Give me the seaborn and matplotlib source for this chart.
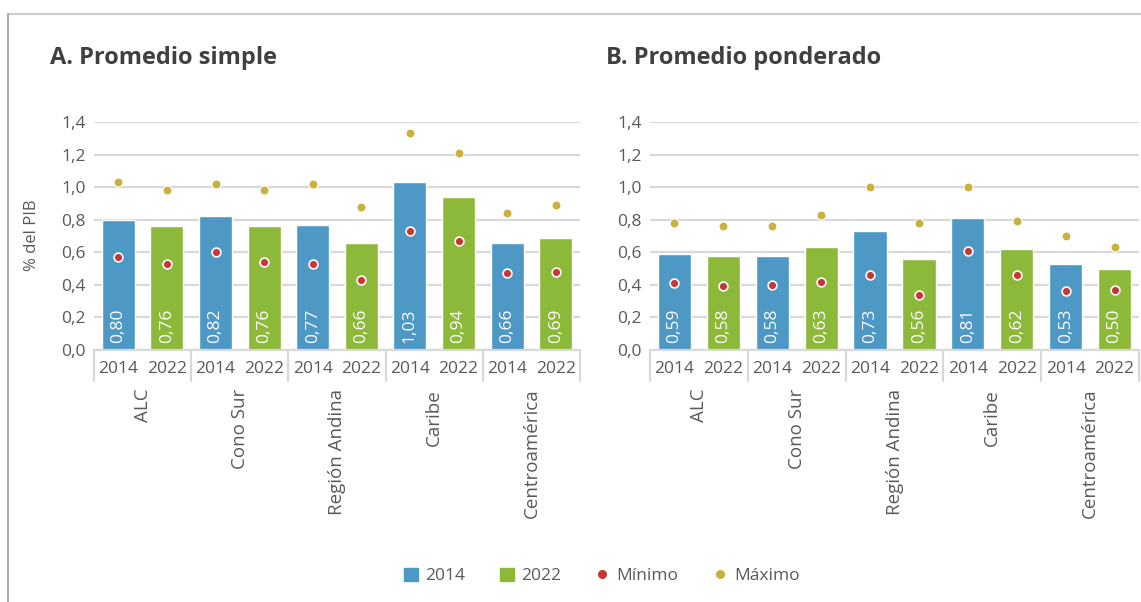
import numpy as np
import pandas as pd
import matplotlib
matplotlib.use("Agg")
import matplotlib.pyplot as plt
import seaborn as sns
from matplotlib.lines import Line2D
from matplotlib.patches import Patch
from matplotlib.ticker import FuncFormatter

regions = ["ALC", "Cono Sur", "Región Andina", "Caribe", "Centroamérica"]
years = ["2014", "2022"]

# Panel A: Promedio simple
simple_vals = [0.80, 0.76, 0.82, 0.76, 0.77, 0.66, 1.03, 0.94, 0.66, 0.69]
simple_min = [0.57, 0.53, 0.60, 0.54, 0.53, 0.43, 0.73, 0.67, 0.47, 0.48]
simple_max = [1.03, 0.98, 1.02, 0.98, 1.02, 0.88, 1.33, 1.21, 0.84, 0.89]

# Panel B: Promedio ponderado
weighted_vals = [0.59, 0.58, 0.58, 0.63, 0.73, 0.56, 0.81, 0.62, 0.53, 0.50]
weighted_min = [0.41, 0.39, 0.40, 0.42, 0.46, 0.34, 0.61, 0.46, 0.36, 0.37]
weighted_max = [0.78, 0.76, 0.76, 0.83, 1.00, 0.78, 1.00, 0.79, 0.70, 0.63]

titles = ["A. Promedio simple", "B. Promedio ponderado"]

C2014 = "#4e98c6"
C2022 = "#8db93a"
CMIN = "#c83636"
CMAX = "#c9b13f"
TXT = "#595959"
GRID = "#d9d9d9"

sns.set_theme(style="white")
plt.rcParams["font.family"] = ["Open Sans", "DejaVu Sans"]

fig = plt.figure(figsize=(11.41, 6.02), dpi=100)

W, H = 1141, 602
axes_px = [(94, 580), (650, 1139)]
y0_px, ytop_px = 350, 122

comma = FuncFormatter(lambda v, p: f"{v:.1f}".replace(".", ","))

datasets = [(simple_vals, simple_min, simple_max), (weighted_vals, weighted_min, weighted_max)]

for (xl, xr), title, (vals, mins, maxs) in zip(axes_px, titles, datasets):
    ax = fig.add_axes([xl / W, 1 - y0_px / H, (xr - xl) / W, (y0_px - ytop_px) / H])
    rows = []
    for i, r in enumerate(regions):
        for j, yv in enumerate(years):
            k = i * 2 + j
            rows.append(dict(pos=k, region=r, year=yv, value=vals[k], vmin=mins[k], vmax=maxs[k]))
    df = pd.DataFrame(rows)
    sns.barplot(data=df, x="pos", y="value", hue="year", palette={"2014": C2014, "2022": C2022},
                dodge=False, width=0.68, ax=ax, legend=False, saturation=1, zorder=2)
    sns.scatterplot(data=df, x="pos", y="vmax", color=CMAX, s=42, edgecolor="white", linewidth=0.8,
                    ax=ax, legend=False, zorder=4)
    sns.scatterplot(data=df, x="pos", y="vmin", color=CMIN, s=40, edgecolor="white", linewidth=1.2,
                    ax=ax, legend=False, zorder=4)
    for _, rw in df.iterrows():
        ax.text(rw["pos"], 0.045, f"{rw['value']:.2f}".replace(".", ","), rotation=90,
                ha="center", va="bottom", color="white", fontsize=12.5, zorder=5)
    ax.set_xlim(-0.5, 9.5)
    ax.set_ylim(0, 1.4)
    ax.set_yticks(np.arange(0, 1.41, 0.2))
    ax.yaxis.set_major_formatter(comma)
    ax.yaxis.grid(True, color=GRID, linewidth=1.6, zorder=0)
    ax.set_axisbelow(True)
    for s in ["left", "right", "top"]:
        ax.spines[s].set_visible(False)
    ax.spines["bottom"].set_color(GRID)
    ax.spines["bottom"].set_linewidth(1.6)
    ax.tick_params(axis="y", length=0, labelsize=12.5, colors=TXT, pad=6)
    ax.set_xticks(df["pos"])
    ax.set_xticklabels(df["year"])
    ax.tick_params(axis="x", length=0, labelsize=12.5, colors=TXT, pad=8)
    ax.set_xlabel("")
    ax.set_ylabel("")
    trans = ax.get_xaxis_transform()
    for b in np.arange(-0.5, 10, 2):
        ax.plot([b, b], [0, -0.135], transform=trans, color=GRID, linewidth=1.6, clip_on=False)
    for i, r in enumerate(regions):
        ax.text(i * 2 + 0.5, -0.17, r, transform=trans, rotation=90, ha="center", va="top",
                fontsize=13.5, color=TXT)
    fig.text((xl - 44) / W, 1 - 58 / H, title, fontsize=17, fontweight="bold", color="#404040",
             ha="left", va="center")

fig.text(32 / W, 1 - 235 / H, "% del PIB", rotation=90, ha="center", va="center", fontsize=12, color=TXT)

# frame
fig.add_artist(Line2D([8 / W, 1.0], [1 - 14 / H, 1 - 14 / H], color="#cccccc", linewidth=1.5))
fig.add_artist(Line2D([8 / W, 8 / W], [0, 1 - 14 / H], color="#aaaaaa", linewidth=1.5))

handles = [Patch(color=C2014, label="2014"), Patch(color=C2022, label="2022"),
           Line2D([], [], marker="o", linestyle="", color=CMIN, markersize=5.5, label="Mínimo"),
           Line2D([], [], marker="o", linestyle="", color=CMAX, markersize=5.5, label="Máximo")]
leg = fig.legend(handles=handles, loc="center", bbox_to_anchor=(602 / W, 1 - 576 / H), ncol=4,
                 frameon=False, fontsize=12.5, handlelength=0.8, handleheight=0.8,
                 columnspacing=2.0, handletextpad=0.4)
for t in leg.get_texts():
    t.set_color(TXT)

fig.savefig("out.png", dpi=100, facecolor="white")
